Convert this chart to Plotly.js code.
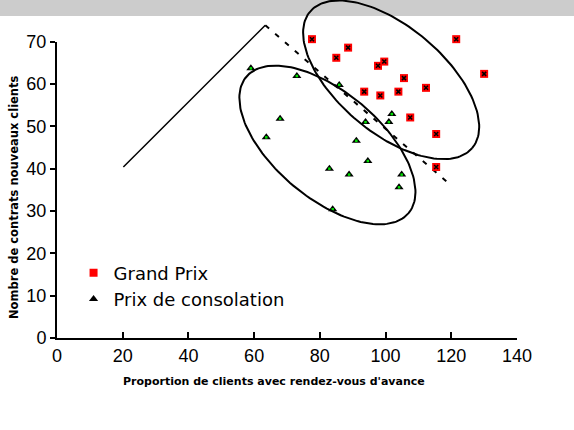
<!DOCTYPE html>
<html>
<head>
<meta charset="utf-8">
<script src="https://cdn.plot.ly/plotly-3.0.1.min.js"></script>
<style>html,body{margin:0;padding:0;background:#fff;}#chart{width:574px;height:430px;}</style>
</head>
<body>
<div id="chart"></div>
<script>
// ---- data ----
const grandPrixX = [77.6, 88.6, 85.0, 97.7, 99.6, 121.5, 130.0, 105.6, 112.3, 93.5, 98.4, 103.9, 107.5, 115.4, 115.4];
const grandPrixY = [70.6, 68.6, 66.2, 64.3, 65.3, 70.6, 62.4, 61.4, 59.1, 58.2, 57.3, 58.2, 52.1, 48.2, 40.4];
const consolationX = [59.0, 73.0, 67.9, 63.7, 101.9, 93.9, 101.0, 91.1, 94.6, 82.9, 88.9, 104.9, 104.1, 83.9, 85.9];
const consolationY = [63.7, 61.9, 51.8, 47.4, 52.9, 51.0, 51.0, 46.6, 41.8, 40.0, 38.6, 38.6, 35.6, 30.4, 59.8];
const seriesNames = ["Grand Prix", "Prix de consolation"];
const xTicks = [0, 20, 40, 60, 80, 100, 120, 140];
const yTicks = [0, 10, 20, 30, 40, 50, 60, 70];
const xTitle = "Proportion de clients avec rendez-vous d'avance";
const yTitle = "Nombre de contrats nouveaux clients";
// drawn guide lines (solid then dashed)
const solidLineX = [20.2, 63.4];
const solidLineY = [40.4, 73.9];
const dashedLineX = [63.4, 119.7];
const dashedLineY = [73.9, 36.2];
// group ellipses: centre and two conjugate semi-axis vectors (data units)
const ellipseCenterX = [101.7, 82.3];
const ellipseCenterY = [61.0, 45.6];
const ellipseUx = [24.7, 24.7];
const ellipseUy = [-16.1, -16.1];
const ellipseVx = [-10.4, -10.4];
const ellipseVy = [-9.6, -9.6];

// ---- geometry ----
const W = 574, H = 430;
const mL = 57, mR = 57, mT = 0, mB = 92;
const plotH = H - mT - mB;            // 338
const axisTopPx = 41.7;               // pixel row of y = 70
const yDomTop = (plotH - axisTopPx) / plotH;
const y2Top = 70 / yDomTop;           // overlay subplot shares the same scale, extended upward

function ellipsePts(i) {
  const xs = [], ys = [];
  const n = 160;
  for (let k = 0; k <= n; k++) {
    const t = 2 * Math.PI * k / n;
    xs.push(ellipseCenterX[i] + ellipseUx[i] * Math.cos(t) + ellipseVx[i] * Math.sin(t));
    ys.push(ellipseCenterY[i] + ellipseUy[i] * Math.cos(t) + ellipseVy[i] * Math.sin(t));
  }
  return {xs, ys};
}

const traces = [];
[0, 1].forEach(i => {
  const e = ellipsePts(i);
  traces.push({x: e.xs, y: e.ys, xaxis: 'x2', yaxis: 'y2', mode: 'lines', type: 'scatter',
    line: {color: '#000', width: 2}, showlegend: false, hoverinfo: 'skip'});
});
traces.push({x: solidLineX, y: solidLineY, xaxis: 'x2', yaxis: 'y2', mode: 'lines', type: 'scatter',
  line: {color: '#000', width: 1.5}, showlegend: false, hoverinfo: 'skip'});
traces.push({x: dashedLineX, y: dashedLineY, xaxis: 'x2', yaxis: 'y2', mode: 'lines', type: 'scatter',
  line: {color: '#000', width: 2, dash: '5px,8px'}, showlegend: false, hoverinfo: 'skip'});

traces.push({x: grandPrixX, y: grandPrixY, name: seriesNames[0], xaxis: 'x2', yaxis: 'y2', mode: 'markers', type: 'scatter',
  cliponaxis: false, marker: {symbol: 'square', size: 8, color: '#ff0000', line: {width: 0}}});
traces.push({x: grandPrixX, y: grandPrixY, xaxis: 'x2', yaxis: 'y2', mode: 'markers', type: 'scatter', showlegend: false,
  cliponaxis: false, hoverinfo: 'skip',
  marker: {symbol: 'x-thin', size: 4, color: '#000', line: {color: '#000', width: 1.5}}});
traces.push({x: consolationX, y: consolationY, name: seriesNames[1], xaxis: 'x', yaxis: 'y', mode: 'markers', type: 'scatter',
  cliponaxis: false, marker: {symbol: 'triangle-up', size: 8, color: '#000', line: {width: 0}}});
traces.push({x: consolationX, y: consolationY, xaxis: 'x', yaxis: 'y', mode: 'markers', type: 'scatter', showlegend: false,
  cliponaxis: false, hoverinfo: 'skip',
  marker: {symbol: 'square', size: 2.5, color: '#00e000', line: {width: 0}}});

const tickFont = {family: '"Liberation Sans", Arial, sans-serif', size: 18, color: '#000'};

const layout = {
  width: W, height: H,
  margin: {l: mL, r: mR, t: mT, b: mB, pad: 0},
  paper_bgcolor: '#fff', plot_bgcolor: 'rgba(0,0,0,0)',
  showlegend: true,
  legend: {x: 0.036, y: 0.247, xanchor: 'left', yanchor: 'top', bgcolor: 'rgba(0,0,0,0)',
    font: {family: '"DejaVu Sans", sans-serif', size: 18, color: '#000'}, tracegroupgap: 0, itemwidth: 30},
  xaxis: {domain: [0, 1], range: [0, 140], anchor: 'y', tickvals: xTicks, ticktext: xTicks.map(String),
    showline: true, linecolor: '#000', linewidth: 2, ticks: 'inside', ticklen: 6, tickwidth: 2, tickcolor: '#000',
    showgrid: false, zeroline: false, tickfont: tickFont, fixedrange: true},
  yaxis: {domain: [0, yDomTop], range: [0, 70], anchor: 'x', tickvals: yTicks, ticktext: yTicks.map(String),
    showline: true, linecolor: '#000', linewidth: 2, ticks: 'outside', ticklen: 5, tickwidth: 2, tickcolor: '#000',
    showgrid: false, zeroline: false, tickfont: tickFont, ticklabelstandoff: 0, fixedrange: true},
  xaxis2: {domain: [0, 1], range: [0, 140], anchor: 'y2', visible: false, fixedrange: true},
  yaxis2: {domain: [0, 1], range: [0, y2Top], anchor: 'x2', visible: false, fixedrange: true},
  shapes: [{type: 'rect', xref: 'paper', yref: 'paper', x0: -mL / (W - mL - mR), x1: 1 + mR / (W - mL - mR),
    y0: 1 - 16 / plotH, y1: 1, fillcolor: '#cccccc', line: {width: 0}, layer: 'below'}],
  annotations: [
    {text: xTitle, xref: 'paper', yref: 'paper', x: (274 - mL) / (W - mL - mR), y: (338 - 381) / plotH,
      xanchor: 'center', yanchor: 'middle', showarrow: false,
      font: {family: '"DejaVu Sans", sans-serif', size: 11, color: '#000', weight: 'bold'}},
    {text: yTitle, xref: 'paper', yref: 'paper', x: (14 - mL) / (W - mL - mR), y: 1 - 197 / plotH,
      xanchor: 'center', yanchor: 'middle', textangle: -90, showarrow: false,
      font: {family: '"DejaVu Sans", sans-serif', size: 11.5, color: '#000', weight: 'bold'}}
  ]
};

Plotly.newPlot('chart', traces, layout, {displayModeBar: false, staticPlot: true});
</script>
</body>
</html>
